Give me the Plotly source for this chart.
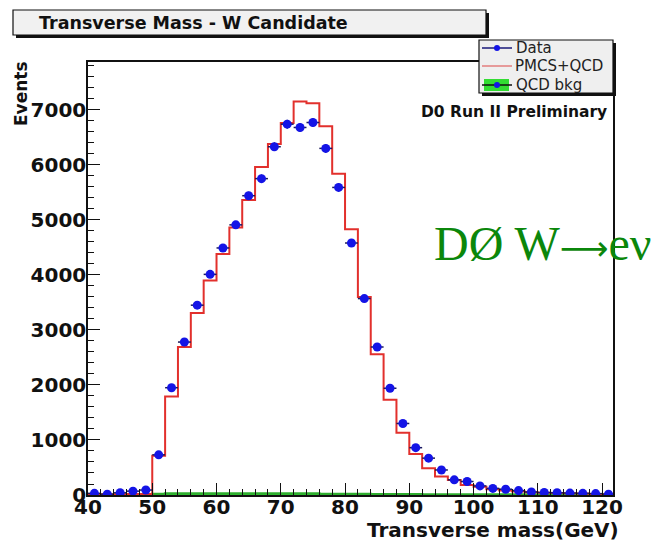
import numpy as np
import plotly.graph_objects as go

# Transverse mass histogram, 2 GeV bins from 40 to 122 GeV
bin_edges = list(range(40, 124, 2))
bin_centers = [e + 1 for e in bin_edges[:-1]]

data_events = [30, 15, 40, 70, 90, 730, 1950, 2780, 3450, 4010,
               4490, 4910, 5440, 5750, 6330, 6740, 6680, 6770, 6300, 5590,
               4580, 3570, 2690, 1940, 1300, 860, 670, 455, 275, 245,
               165, 120, 105, 80, 55, 45, 40, 35, 30, 25, 15]

pmcs_qcd = [15, 15, 15, 20, 20, 715, 1790, 2690, 3310, 3900,
            4380, 4860, 5360, 5960, 6380, 6760, 7150, 7120, 6700, 5840,
            4830, 3600, 2560, 1730, 1130, 745, 485, 335, 273, 182,
            150, 105, 80, 65, 50, 40, 35, 30, 25, 20, 15]

qcd_bkg = [0, 0, 0, 0, 0, 20, 25, 25, 25, 25,
           25, 25, 25, 25, 25, 25, 25, 25, 20, 20,
           20, 20, 15, 15, 15, 15, 10, 10, 10, 10,
           10, 10, 10, 10, 10, 10, 10, 10, 10, 10, 10]

x_ticks = [40, 50, 60, 70, 80, 90, 100, 110, 120]
y_ticks = [0, 1000, 2000, 3000, 4000, 5000, 6000, 7000]

W, H = 658, 541
L, R, T, B = 88, 613, 62, 495          # frame in pixels


def px(x):
    return (x - L) / (R - L)


def py(y):
    return (B - y) / (B - T)


FONT = "DejaVu Sans"

fig = go.Figure()

# QCD background (filled, hugging the axis)
fig.add_trace(go.Scatter(
    x=bin_edges, y=qcd_bkg + [qcd_bkg[-1]], mode="lines",
    line=dict(shape="hv", color="#2fae2f", width=2.5),
    fill="tozeroy", fillcolor="#33dd33", showlegend=False))

# PMCS+QCD prediction as a step histogram
fig.add_trace(go.Scatter(
    x=bin_edges, y=pmcs_qcd + [pmcs_qcd[-1]], mode="lines",
    line=dict(shape="hv", color="#e2302c", width=2),
    showlegend=False))

# Data points with bin-width and statistical error bars
fig.add_trace(go.Scatter(
    x=bin_centers, y=data_events, mode="markers",
    marker=dict(color="#1414e6", size=9, symbol="circle"),
    error_x=dict(type="constant", value=1.0, color="#1a1a5a",
                 thickness=1.5, width=0),
    error_y=dict(type="data", array=np.sqrt(data_events), color="#1a1a5a",
                 thickness=1.2, width=0),
    showlegend=False))

axis_common = dict(
    showgrid=False, zeroline=False, showline=True, linecolor="#111",
    linewidth=1.5, mirror=True, ticks="inside", ticklen=12,
    tickwidth=1.3, tickcolor="#111",
    tickfont=dict(family=FONT, size=20, color="#111", weight="bold"),
)

fig.update_xaxes(range=[40, 121.7], tickvals=x_ticks, ticklabelstandoff=-7,
                 minor=dict(dtick=2, tick0=40, ticks="inside", ticklen=6,
                            tickwidth=1, tickcolor="#111"),
                 **axis_common)
fig.update_yaxes(range=[0, 7870], tickvals=y_ticks, ticklabelstandoff=-4,
                 minor=dict(dtick=200, tick0=0, ticks="inside", ticklen=6,
                            tickwidth=1, tickcolor="#111"),
                 **axis_common)

P = dict(xref="paper", yref="paper")

shapes = []
# title box with drop shadow
shapes.append(dict(type="rect", **P,
                   x0=px(16), x1=px(489), y0=py(13), y1=py(38),
                   fillcolor="#111", line=dict(width=0), layer="above"))
shapes.append(dict(type="rect", **P,
                   x0=px(13), x1=px(486), y0=py(10), y1=py(35),
                   fillcolor="#f1f1f1", line=dict(color="#111", width=1.2),
                   layer="above"))
# legend box with drop shadow
shapes.append(dict(type="rect", **P,
                   x0=px(482), x1=px(616), y0=py(43), y1=py(96),
                   fillcolor="#111", line=dict(width=0), layer="above"))
shapes.append(dict(type="rect", **P,
                   x0=px(479), x1=px(613), y0=py(40), y1=py(93),
                   fillcolor="#efefef", line=dict(color="#111", width=1.2),
                   layer="above"))
# legend glyphs
shapes.append(dict(type="line", **P,
                   x0=px(482), x1=px(512), y0=py(48), y1=py(48),
                   line=dict(color="#1a1a7a", width=1.5), layer="above"))
shapes.append(dict(type="circle", **P,
                   x0=px(494), x1=px(500), y0=py(45), y1=py(51),
                   fillcolor="#1414e6", line=dict(width=0), layer="above"))
shapes.append(dict(type="line", **P,
                   x0=px(482), x1=px(512), y0=py(66), y1=py(66),
                   line=dict(color="#e06060", width=1.2), layer="above"))
shapes.append(dict(type="rect", **P,
                   x0=px(484), x1=px(509), y0=py(79), y1=py(91),
                   fillcolor="#33dd33", line=dict(width=0), layer="above"))
shapes.append(dict(type="line", **P,
                   x0=px(482), x1=px(512), y0=py(85), y1=py(85),
                   line=dict(color="#111", width=1.5), layer="above"))
shapes.append(dict(type="circle", **P,
                   x0=px(494), x1=px(500), y0=py(82), y1=py(88),
                   fillcolor="#1414e6", line=dict(width=0), layer="above"))

arrow = "<span style=\"font-family:'DejaVu Sans';font-size:34px\">⟶</span>"

annotations = [
    dict(text="Transverse Mass - W Candidate", x=px(37), y=py(23),
         xanchor="left", yanchor="middle", showarrow=False,
         font=dict(family=FONT, size=17.5, color="#111", weight="bold")),
    dict(text="Data", x=px(514), y=py(48), xanchor="left", yanchor="middle",
         showarrow=False, font=dict(family=FONT, size=15, color="#222")),
    dict(text="PMCS+QCD", x=px(513), y=py(66), xanchor="left",
         yanchor="middle", showarrow=False,
         font=dict(family=FONT, size=15, color="#222")),
    dict(text="QCD bkg", x=px(514), y=py(85), xanchor="left",
         yanchor="middle", showarrow=False,
         font=dict(family=FONT, size=15, color="#222")),
    dict(text="D0 Run II Preliminary", x=px(609), y=py(112),
         xanchor="right", yanchor="middle", showarrow=False,
         font=dict(family=FONT, size=15.5, color="#111", weight="bold")),
    dict(text="DØ W" + arrow + "eν", x=px(432), y=py(243), xanchor="left",
         yanchor="middle", showarrow=False,
         font=dict(family="Liberation Serif", size=48, color="#0b870b")),
    dict(text="Events", x=px(21), y=py(94), xanchor="center",
         yanchor="middle", textangle=-90, showarrow=False,
         font=dict(family=FONT, size=17, color="#111", weight="bold")),
    dict(text="Transverse mass(GeV)", x=px(621), y=py(530),
         xanchor="right", yanchor="middle", showarrow=False,
         font=dict(family=FONT, size=20, color="#111", weight="bold")),
]
for a in annotations:
    a.update(P)

fig.update_layout(
    width=W, height=H,
    margin=dict(l=L, r=W - R, t=T, b=H - B, autoexpand=False),
    paper_bgcolor="white", plot_bgcolor="white",
    showlegend=False, shapes=shapes, annotations=annotations,
)

fig.write_html("out.html")
